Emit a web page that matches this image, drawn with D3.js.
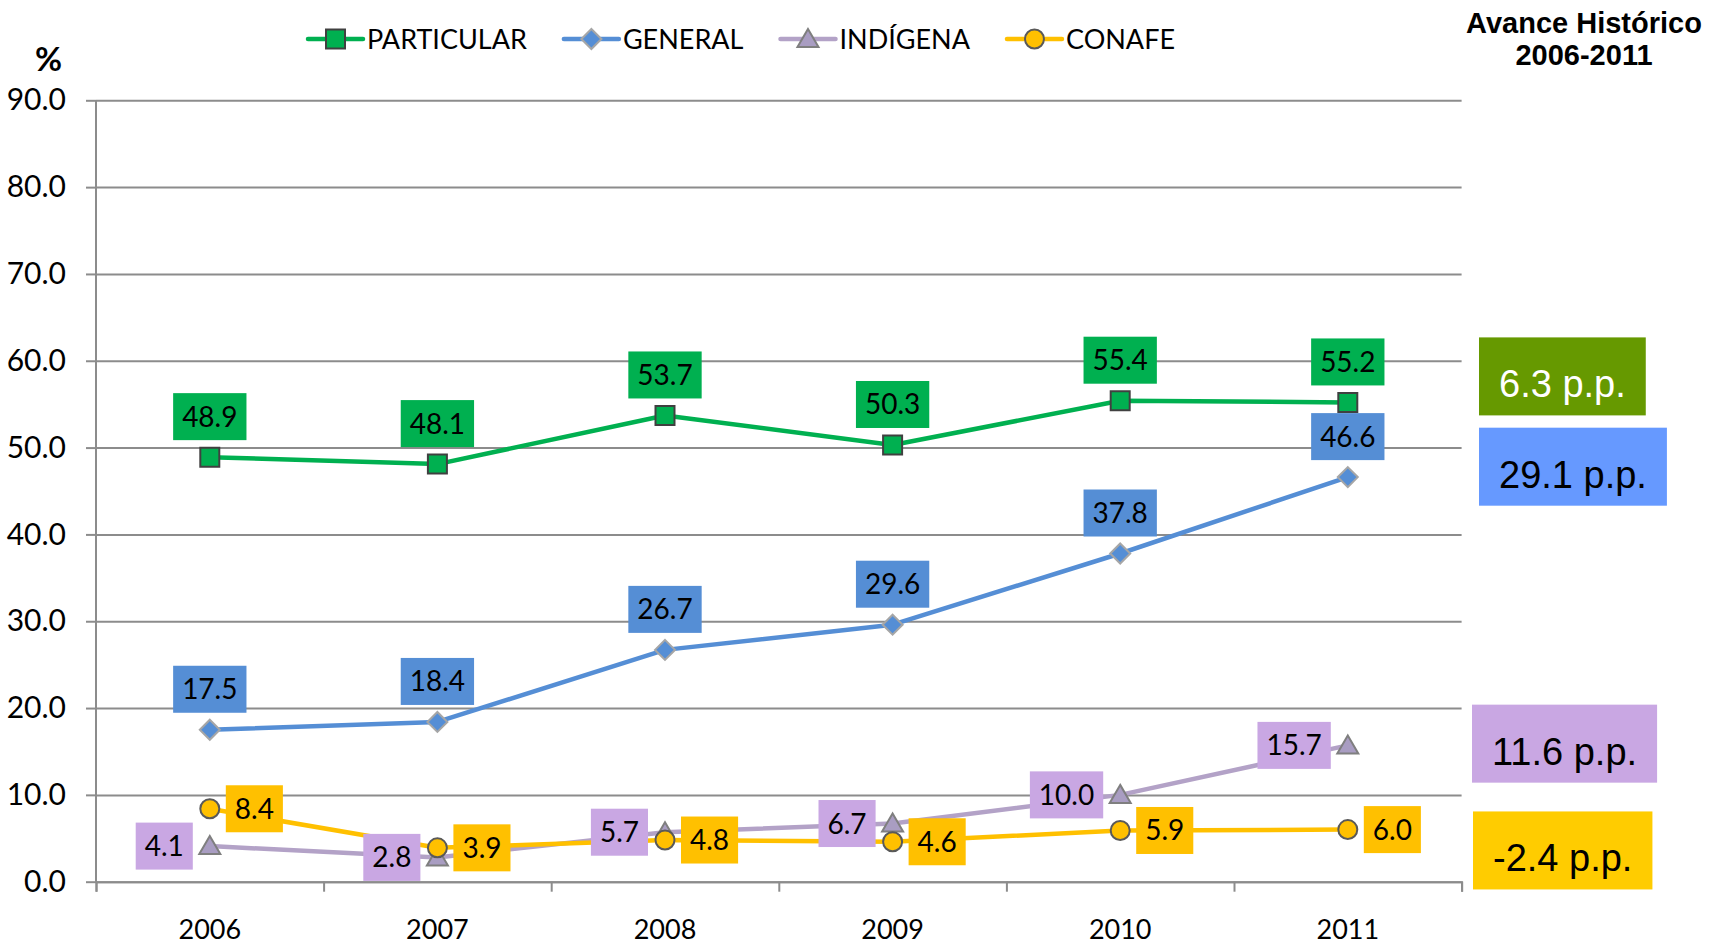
<!DOCTYPE html>
<html>
<head>
<meta charset="utf-8">
<script src="https://cdn.jsdelivr.net/npm/d3@7"></script>
<style>
  body { margin: 0; background: #fff; }
  svg { display: block; }
  text { font-family: Lato, "Open Sans", sans-serif; }
  text.arial { font-family: "Liberation Sans", Arial, sans-serif; }
</style>
</head>
<body>
<div id="chart"></div>
<script>
// data
var years = ["2006", "2007", "2008", "2009", "2010", "2011"];
var particular = [48.9, 48.1, 53.7, 50.3, 55.4, 55.2];
var general = [17.5, 18.4, 26.7, 29.6, 37.8, 46.6];
var indigena = [4.1, 2.8, 5.7, 6.7, 10.0, 15.7];
var conafe = [8.4, 3.9, 4.8, 4.6, 5.9, 6.0];
var seriesNames = ["PARTICULAR", "GENERAL", "INDÍGENA", "CONAFE"];
var yTicks = [0, 10, 20, 30, 40, 50, 60, 70, 80, 90];
var titleLines = ["Avance Histórico", "2006-2011"];

var allSeries = [particular, general, indigena, conafe];

// styles per series
var styles = [
  {line: "#00B050", fill: "#00B050", stroke: "#404040", marker: "square",   box: "#00B050", pos: "above", note: "#669900", noteText: "#fff"},
  {line: "#558ED5", fill: "#558ED5", stroke: "#A6A6A6", marker: "diamond",  box: "#558ED5", pos: "above", note: "#6699FF", noteText: "#000"},
  {line: "#B3A2C7", fill: "#A99DC2", stroke: "#7F7F7F", marker: "triangle", box: "#C9A7E3", pos: "left",  note: "#C9A7E3", noteText: "#000"},
  {line: "#FFC000", fill: "#FFC000", stroke: "#595959", marker: "circle",   box: "#FFC000", pos: "right", note: "#FFCC00", noteText: "#000"}
];
// where the "p.p." boxes sit (centre, in axis units) and their left edge in px
var noteLevel = [58.2, 47.8, 15.9, 3.6];
var noteLeft = [1479, 1479, 1472, 1473];

var W = 1709, H = 946;
var margin = {top: 100.3, right: 247.4, bottom: 64.3, left: 96},
    width = W - margin.left - margin.right,
    height = H - margin.top - margin.bottom;

var svg = d3.select("#chart").append("svg")
    .attr("width", W)
    .attr("height", H);

var x = d3.scaleBand().domain(years).range([margin.left, margin.left + width]).padding(0);
var y = d3.scaleLinear().domain([0, 90]).range([margin.top + height, margin.top]);
var grey = "#8C8C8C";

// gridlines
svg.append("g")
    .attr("transform", "translate(" + margin.left + ",0)")
    .call(d3.axisLeft(y).tickValues(yTicks).tickSize(-width).tickFormat(""))
    .call(function(g) { g.select(".domain").remove(); })
    .selectAll("line").attr("stroke", grey).attr("stroke-width", 2);

// y axis labels and ticks
svg.append("g")
    .attr("transform", "translate(" + margin.left + ",0)")
    .call(d3.axisLeft(y).tickValues(yTicks).tickSize(10).tickPadding(20).tickFormat(d3.format(".1f")))
    .call(function(g) { g.select(".domain").remove(); })
    .call(function(g) {
      g.selectAll("line").attr("stroke", grey).attr("stroke-width", 2);
      g.selectAll("text").attr("font-size", 30).attr("fill", "#000").attr("font-family", "Lato");
    });

// left vertical axis line
svg.append("line")
    .attr("x1", margin.left).attr("x2", margin.left)
    .attr("y1", y(90)).attr("y2", y(0))
    .attr("stroke", grey).attr("stroke-width", 2);

// x axis: boundary ticks
var xb = d3.scaleLinear().domain([0, years.length]).range([margin.left, margin.left + width]);
svg.append("g")
    .attr("transform", "translate(0," + y(0) + ")")
    .call(d3.axisBottom(xb).ticks(years.length).tickSize(10).tickSizeOuter(10).tickFormat(""))
    .call(function(g) {
      g.selectAll("line").attr("stroke", grey).attr("stroke-width", 2);
      g.select(".domain").attr("stroke", grey).attr("stroke-width", 2);
    });

// x axis labels
svg.append("g")
    .attr("transform", "translate(0," + y(0) + ")")
    .call(d3.axisBottom(x).tickSize(0).tickPadding(38))
    .call(function(g) {
      g.select(".domain").remove();
      g.selectAll("text").attr("font-size", 27).attr("fill", "#000").attr("font-family", "Lato");
    });

// marker shapes
function markerPath(type) {
  if (type == "square") return "M-9.5,-9.5h19v19h-19z";
  if (type == "diamond") return "M0,-10L10,0L0,10L-10,0Z";
  if (type == "triangle") return "M0,-10L10.5,8L-10.5,8Z";
  return d3.symbol().type(d3.symbolCircle).size(Math.PI * 9.5 * 9.5)();
}

var line = d3.line()
    .x(function(d, i) { return x(years[i]) + x.bandwidth() / 2; })
    .y(function(d) { return y(d); });

// lines + markers
allSeries.forEach(function(values, s) {
  var st = styles[s];
  svg.append("path")
      .datum(values)
      .attr("d", line)
      .attr("fill", "none")
      .attr("stroke", st.line)
      .attr("stroke-width", 4.5)
      .attr("stroke-linejoin", "round")
      .attr("stroke-linecap", "round");

  svg.selectAll(".m" + s)
      .data(values)
      .enter()
      .append("path")
      .attr("class", "m" + s)
      .attr("d", markerPath(st.marker))
      .attr("transform", function(d, i) {
        return "translate(" + (x(years[i]) + x.bandwidth() / 2) + "," + y(d) + ")";
      })
      .attr("fill", st.fill)
      .attr("stroke", st.stroke)
      .attr("stroke-width", 2);
});

// data labels in boxes
var fmt = d3.format(".1f");
var boxH = 47, pad = 9;
allSeries.forEach(function(values, s) {
  var st = styles[s];
  values.forEach(function(v, i) {
    var px = x(years[i]) + x.bandwidth() / 2, py = y(v);
    var g = svg.append("g");
    var rect = g.append("rect").attr("fill", st.box);
    var t = g.append("text")
        .attr("font-size", 28)
        .attr("fill", "#000")
        .attr("text-anchor", "middle")
        .text(fmt(v));
    var bw = t.node().getComputedTextLength() + pad * 2;
    var cx, cy;
    if (st.pos == "above") { cx = px; cy = py - 17 - boxH / 2; }
    else if (st.pos == "left") { cx = px - 17 - bw / 2; cy = py; }
    else { cx = px + 16 + bw / 2; cy = py; }
    rect.attr("x", cx - bw / 2).attr("y", cy - boxH / 2).attr("width", bw).attr("height", boxH);
    t.attr("x", cx).attr("y", cy + 10);
  });
});

// "p.p." change boxes on the right
allSeries.forEach(function(values, s) {
  var st = styles[s];
  var diff = values[values.length - 1] - values[0];
  var g = svg.append("g");
  var rect = g.append("rect").attr("fill", st.note);
  var t = g.append("text")
      .attr("class", "arial")
      .attr("font-size", 38)
      .attr("fill", st.noteText)
      .text(diff.toFixed(1) + " p.p.");
  var bw = t.node().getComputedTextLength() + 40;
  var bh = 78;
  var top = y(noteLevel[s]) - bh / 2;
  rect.attr("x", noteLeft[s]).attr("y", top).attr("width", bw).attr("height", bh);
  t.attr("x", noteLeft[s] + 20).attr("y", top + bh / 2 + 21);
});

// legend
var lx = 308, ly = 39;
seriesNames.forEach(function(name, s) {
  var st = styles[s];
  var g = svg.append("g");
  g.append("line")
      .attr("x1", lx).attr("x2", lx + 55)
      .attr("y1", ly).attr("y2", ly)
      .attr("stroke", st.line).attr("stroke-width", 4.5).attr("stroke-linecap", "round");
  g.append("path")
      .attr("d", markerPath(st.marker))
      .attr("transform", "translate(" + (lx + 27.5) + "," + ly + ")")
      .attr("fill", st.fill).attr("stroke", st.stroke).attr("stroke-width", 2);
  var t = g.append("text")
      .attr("x", lx + 59).attr("y", ly + 10)
      .attr("font-size", 27)
      .attr("fill", "#000")
      .text(name);
  lx = lx + 59 + t.node().getComputedTextLength() + 37;
});

// "%" unit label
svg.append("text")
    .attr("x", 35).attr("y", 71)
    .attr("font-size", 33)
    .attr("font-weight", "bold")
    .attr("fill", "#000")
    .text("%");

// title at top right
svg.selectAll(".title")
    .data(titleLines)
    .enter()
    .append("text")
    .attr("class", "title arial")
    .attr("x", 1584)
    .attr("y", function(d, i) { return 33 + i * 32; })
    .attr("text-anchor", "middle")
    .attr("font-weight", "bold")
    .attr("font-size", 29)
    .attr("fill", "#000")
    .text(function(d) { return d; });
</script>
</body>
</html>
